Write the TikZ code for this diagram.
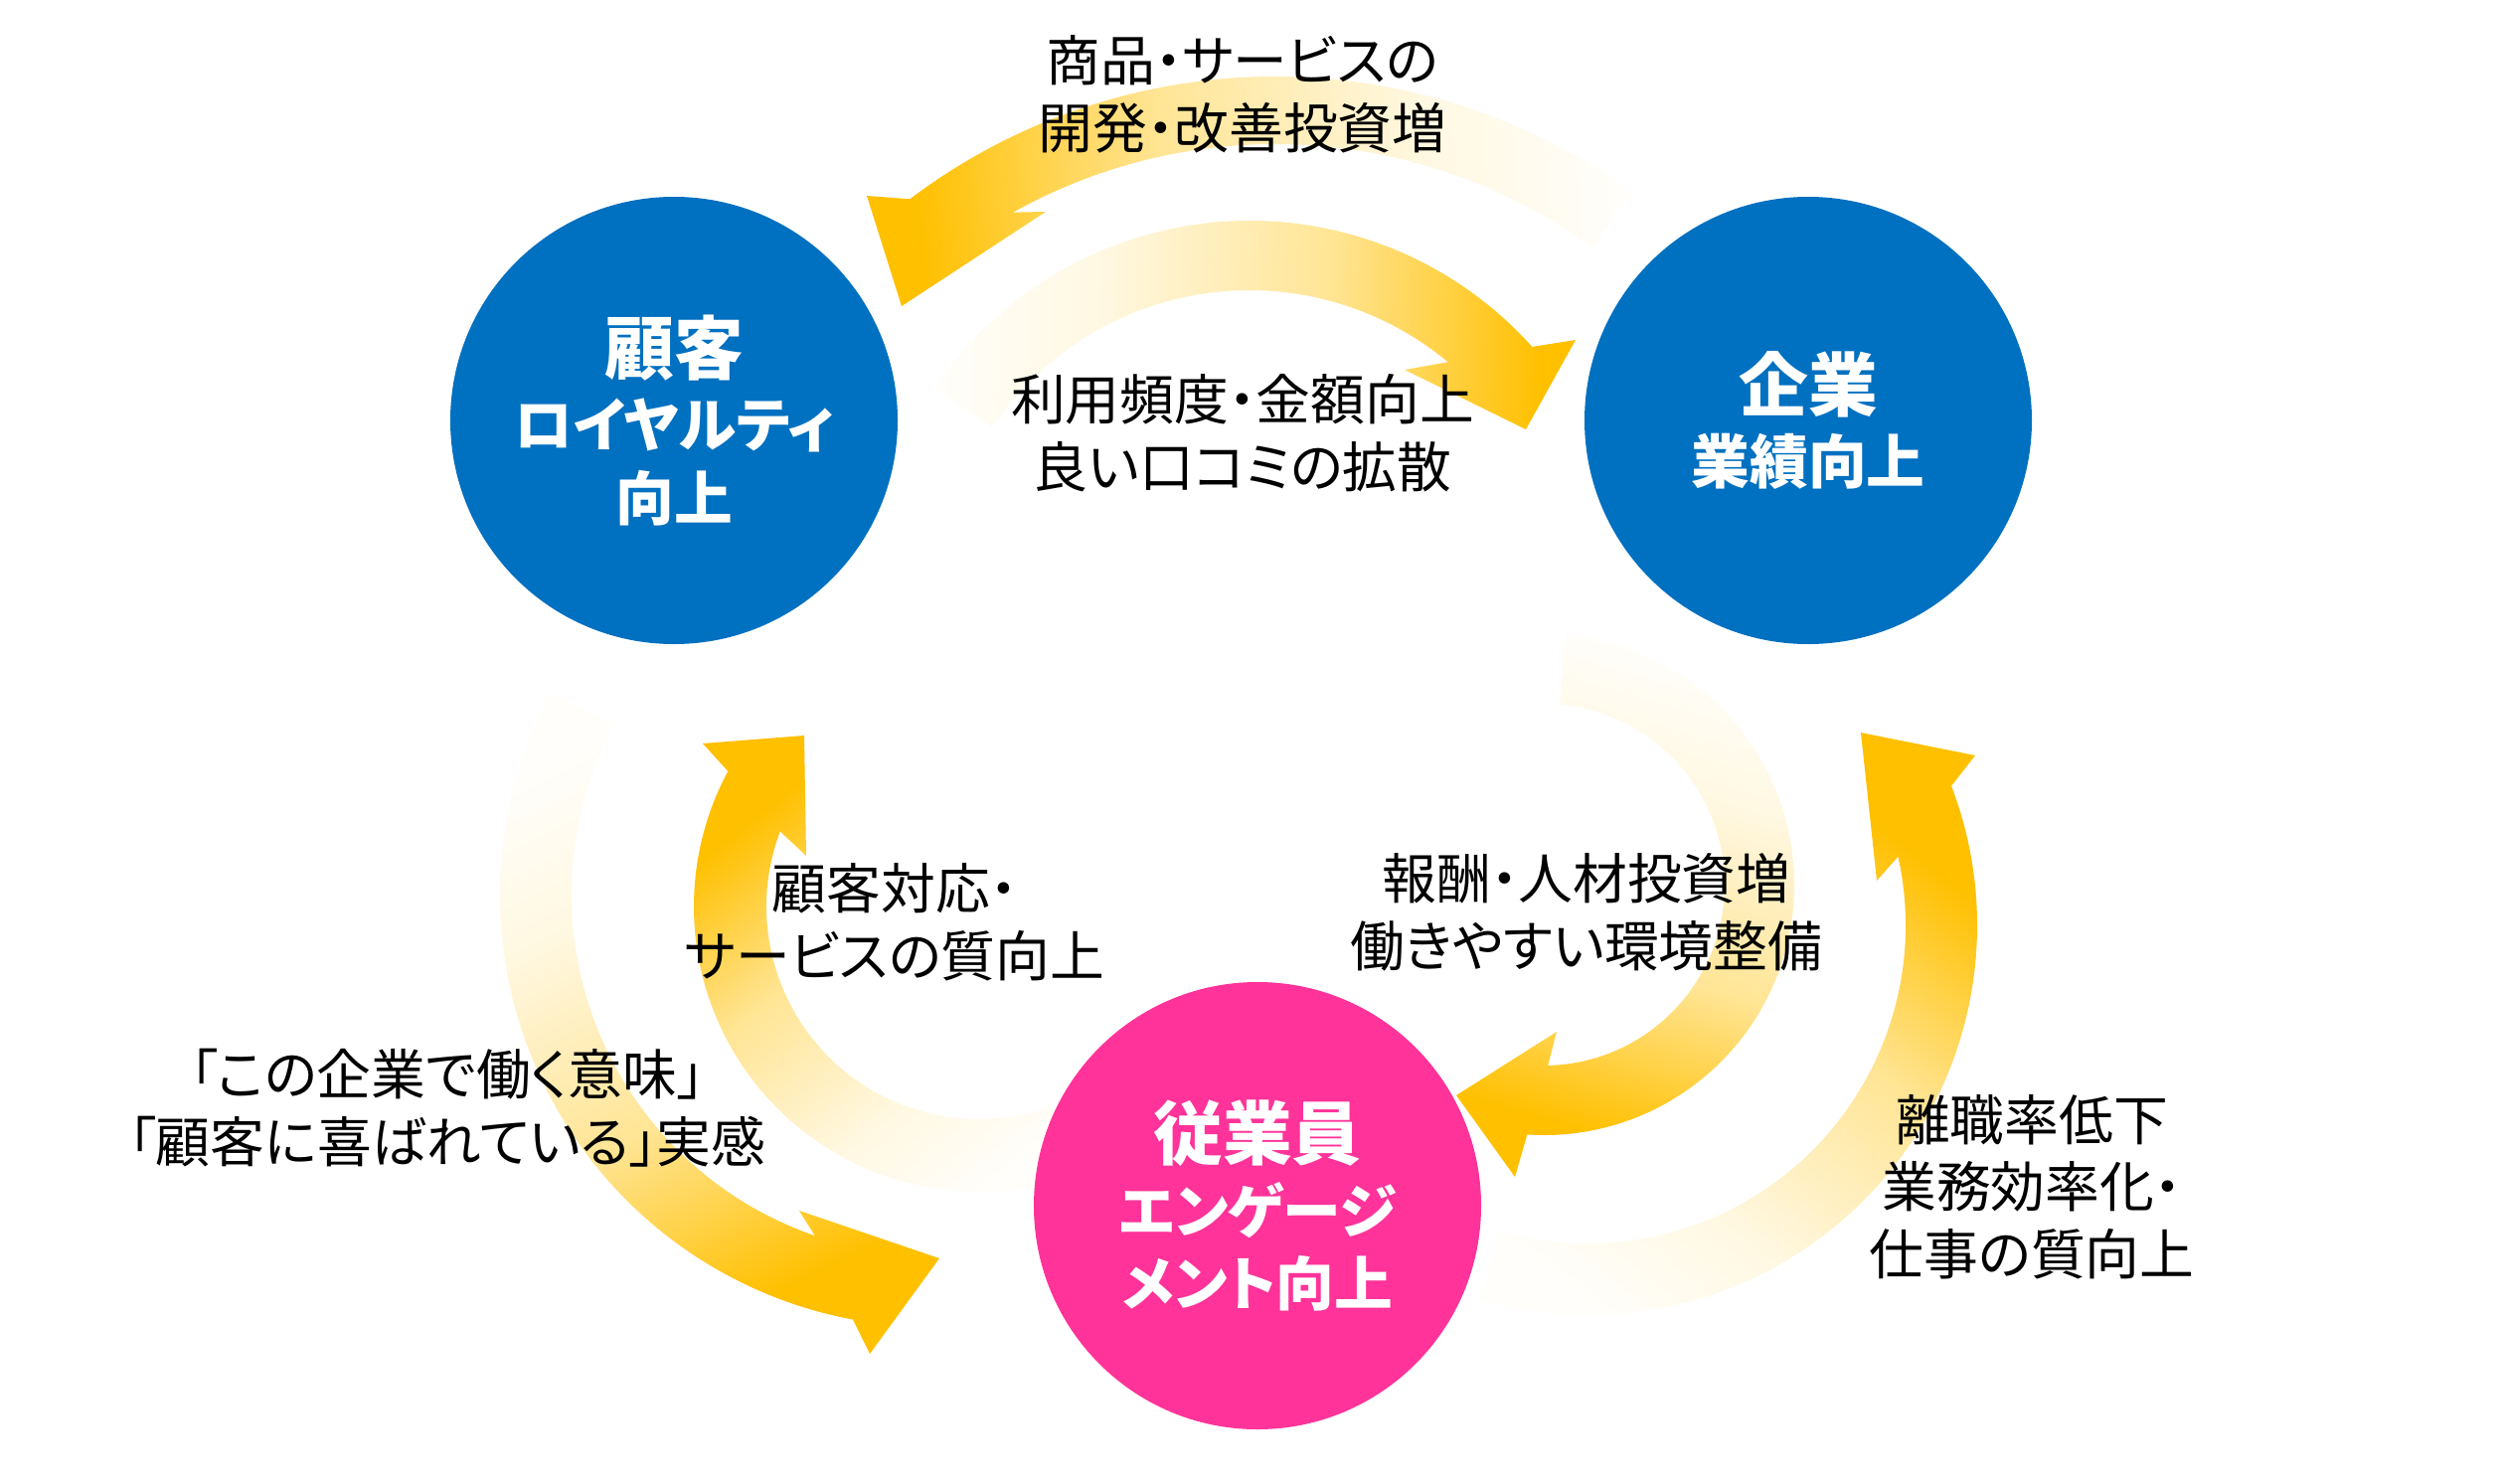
\documentclass[tikz,border=0pt]{standalone}
\usepackage{fontspec}
\newfontfamily\jp[RawFeature=+palt]{Noto Sans CJK JP}
\definecolor{gold}{HTML}{FFC000}
\definecolor{cblue}{HTML}{0070C0}
\definecolor{cpink}{HTML}{FF3399}
\colorlet{g0}{gold!2!white}
\colorlet{gA}{gold!12!white}
\colorlet{gB}{gold!42!white}
\pgfdeclareverticalshading{goldfade}{100bp}{color(0bp)=(white); color(25bp)=(g0); color(38bp)=(gA); color(56bp)=(gB); color(73bp)=(gold); color(100bp)=(gold)}
\tikzset{
  arrowfill/.style={shading=goldfade},
  hub/.style={circle, minimum size=450bp, inner sep=0pt, text=white, align=center,
    font=\jp\bfseries\fontsize{59}{74}\selectfont},
  lbl/.style={inner sep=0pt, align=center, text=black, font=\jp\fontsize{55}{68}\selectfont}
}
\begin{document}
\begin{tikzpicture}[x=1bp,y=1bp]
\fill[white] (0,0) rectangle (2520,-1493);
\useasboundingbox (0,0) rectangle (2520,-1493);
\coordinate (cA) at (1283,-687);
\coordinate (cB) at (1257,-604);
\coordinate (cC) at (938,-900);
\coordinate (cD) at (985,-912);
\coordinate (cE) at (1553,-890);
\coordinate (cF) at (1597,-931);
% A: top outer, to left circle
\path[arrowfill, shading angle=95] ([shift={(54:610)}]cA) arc[start angle=54, end angle=127.07, radius=610]
  -- (872,-197) -- (907,-308) -- (1052,-213)
  -- ([shift={(119.15:542)}]cA) arc[start angle=119.15, end angle=54, radius=542] -- cycle;
% B: top inner, to right circle
\path[arrowfill, shading angle=-92] ([shift={(146:382)}]cB) arc[start angle=146, end angle=41.9, radius=382]
  -- (1585,-342) -- (1535,-432) -- (1413,-372)
  -- ([shift={(50.2:312)}]cB) arc[start angle=50.2, end angle=146, radius=312] -- cycle;
% C: left outer, to pink circle
\path[arrowfill, shading angle=206] ([shift={(152:435)}]cC) arc[start angle=152, end angle=259.4, radius=435]
  -- (875,-1362) -- (945,-1266) -- (804,-1218)
  -- ([shift={(251:363)}]cC) arc[start angle=251, end angle=152, radius=363] -- cycle;
% D: left inner, to left circle
\path[arrowfill, shading angle=38] ([shift={(290:287)}]cD) arc[start angle=290, end angle=151.7, radius=287]
  -- (707,-748) -- (809,-740) -- (811,-861)
  -- ([shift={(159.3:214)}]cD) arc[start angle=159.3, end angle=290, radius=214] -- cycle;
% E: right inner, to pink circle
\path[arrowfill, shading angle=164] ([shift={(85:252)}]cE) arc[start angle=85, end angle=-93.8, radius=252]
  -- (1524,-1184) -- (1465,-1102) -- (1566,-1038)
  -- ([shift={(-88.7:182)}]cE) arc[start angle=-88.7, end angle=85, radius=182] -- cycle;
% F: right outer, to right circle
\path[arrowfill, shading angle=-38] ([shift={(-106:392)}]cF) arc[start angle=-106, end angle=20.96, radius=392]
  -- (1987,-760) -- (1872,-737) -- (1888,-886)
  -- ([shift={(12.5:320)}]cF) arc[start angle=12.5, end angle=-106, radius=320] -- cycle;
% hubs
\node[hub, fill=cblue] (cust) at (678,-423) {{\fontsize{70}{74}\selectfont 顧客}\\ロイヤルティ\\向上};
\node[hub, fill=cblue] (corp) at (1819,-423) {{\fontsize{70}{74}\selectfont 企業}\\業績向上};
\node[hub, fill=cpink] (emp) at (1265,-1213) {{\fontsize{70}{74}\selectfont 従業員}\\エンゲージ\\メント向上};
% labels
\node[lbl] (lA) at (1250,-95) {商品・サービスの\\開発・改善投資増};
\node[lbl] (lB) at (1250,-436) {利用頻度・金額向上\\良い口コミの拡散};
\node[lbl] (lD) at (900,-928) {顧客対応・\\サービスの質向上};
\node[lbl] (lE) at (1596,-918) {報酬・人材投資増\\働きやすい環境整備};
\node[lbl] (lC) at (450,-1115) {「この企業で働く意味」\\「顧客に喜ばれている」実感};
\node[lbl] (lF) at (2044,-1194) {離職率低下\\業務効率化・\\仕事の質向上};
\end{tikzpicture}
\end{document}
